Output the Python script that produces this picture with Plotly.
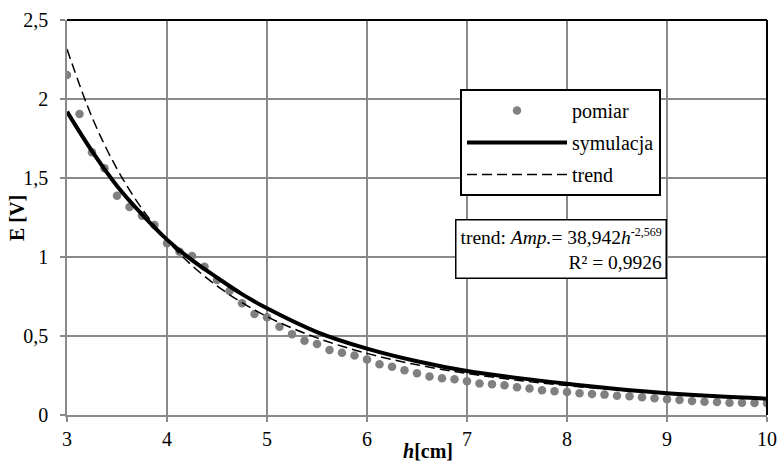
import plotly.graph_objects as go

# measured points (pomiar)
h_meas = [3.0 + 0.125 * i for i in range(57)]
e_meas = [2.152, 1.905, 1.663, 1.561, 1.388, 1.316, 1.261, 1.203,
          1.087, 1.034, 1.006, 0.939, 0.854, 0.785, 0.707, 0.639,
          0.618, 0.559, 0.511, 0.470, 0.449, 0.411, 0.394, 0.377,
          0.352, 0.321, 0.306, 0.283, 0.264, 0.243, 0.232, 0.226,
          0.213, 0.200, 0.194, 0.188, 0.175, 0.167, 0.156, 0.150,
          0.146, 0.137, 0.133, 0.129, 0.122, 0.118, 0.112, 0.106,
          0.099, 0.095, 0.089, 0.084, 0.082, 0.078, 0.078, 0.076, 0.074]

# simulation (symulacja)
h_sim = [3.0, 3.25, 3.5, 3.75, 4.0, 4.25, 4.5, 4.75, 5.0, 5.5, 6.0, 6.5,
         7.0, 7.5, 8.0, 8.5, 9.0, 9.5, 10.0]
e_sim = [1.92, 1.67, 1.45, 1.27, 1.11, 0.98, 0.87, 0.765, 0.675, 0.525,
         0.42, 0.34, 0.278, 0.235, 0.198, 0.165, 0.138, 0.118, 0.103]

# trend line (trend)
h_trend = [3.0, 3.25, 3.5, 3.75, 4.0, 4.25, 4.5, 4.75, 5.0, 5.25, 5.5, 5.75,
           6.0, 6.25, 6.5, 6.75, 7.0, 7.5, 8.0, 8.5, 9.0, 9.5, 10.0]
e_trend = [2.316, 1.885, 1.558, 1.305, 1.106, 0.946, 0.817, 0.711, 0.623,
           0.550, 0.488, 0.435, 0.390, 0.351, 0.318, 0.288, 0.263, 0.220,
           0.186, 0.159, 0.138, 0.120, 0.105]

x_ticks = [3, 4, 5, 6, 7, 8, 9, 10]
x_labels = ["3", "4", "5", "6", "7", "8", "9", "10"]
y_ticks = [0, 0.5, 1, 1.5, 2, 2.5]
y_labels = ["0", "0,5", "1", "1,5", "2", "2,5"]

FONT = "Liberation Serif"
GRID = "#8a8a8a"

fig = go.Figure()
fig.add_trace(go.Scatter(x=h_meas, y=e_meas, mode="markers", name="pomiar",
                         legendgroup="a",
                         marker=dict(color="#808080", size=8.5)))
fig.add_trace(go.Scatter(x=h_sim, y=e_sim, mode="lines", name="symulacja",
                         legendgroup="b",
                         line=dict(color="black", width=4, shape="spline")))
fig.add_trace(go.Scatter(x=h_trend, y=e_trend, mode="lines", name="trend",
                         legendgroup="c",
                         line=dict(color="black", width=1.5, dash="10px,5px",
                                   shape="spline")))

fig.update_layout(
    width=779, height=461,
    margin=dict(l=67, r=12, t=20, b=46, autoexpand=False),
    paper_bgcolor="white", plot_bgcolor="white",
    font=dict(family=FONT, size=20, color="black"),
    separators=", ",
    showlegend=True,
    legend=dict(x=(460 - 67) / 700, y=(415 - 89) / 395,
                xanchor="left", yanchor="top",
                bgcolor="white", bordercolor="black", borderwidth=2,
                font=dict(family=FONT, size=20), itemwidth=100,
                tracegroupgap=3),
    xaxis=dict(range=[3, 10], tickvals=x_ticks, ticktext=x_labels,
               showgrid=True, gridcolor=GRID, gridwidth=1.5,
               showline=True, linecolor=GRID, linewidth=1.5,
               ticks="outside", tickcolor=GRID, ticklen=5, tickwidth=1.5,
               zeroline=False, automargin=False,
               tickfont=dict(family=FONT, size=20)),
    yaxis=dict(range=[0, 2.5], tickvals=y_ticks, ticktext=y_labels,
               showgrid=True, gridcolor=GRID, gridwidth=1.5,
               showline=True, linecolor=GRID, linewidth=1.5,
               ticks="outside", tickcolor=GRID, ticklen=5, tickwidth=1.5,
               zeroline=False, automargin=False,
               tickfont=dict(family=FONT, size=20),
               ticklabelstandoff=8),
)

# top and right black frame
fig.add_shape(type="line", xref="paper", yref="paper", x0=0, x1=1, y0=1, y1=1,
              line=dict(color="black", width=2))
fig.add_shape(type="line", xref="paper", yref="paper", x0=1, x1=1, y0=0, y1=1,
              line=dict(color="black", width=2))

# axis titles
fig.add_annotation(text="<b>E [V]</b>", xref="paper", yref="paper",
                   x=(17 - 67) / 700, y=(415 - 218) / 395,
                   xanchor="center", yanchor="middle",
                   showarrow=False, textangle=-90,
                   font=dict(family=FONT, size=20))
fig.add_annotation(text="<b><i>h</i>[cm]</b>", xref="paper", yref="paper",
                   x=(428 - 67) / 700, y=(415 - 451) / 395,
                   xanchor="center", yanchor="middle",
                   showarrow=False, font=dict(family=FONT, size=20))

# trend equation box
fig.add_annotation(
    text=("trend: <i>Amp.</i>= 38,942<i>h</i>"
          "<sup><span style='font-size:12px'>-2,569</span></sup>"
          "<br>R² = 0,9926"),
    xref="paper", yref="paper", x=(667 - 67) / 700, y=(415 - 248.5) / 395,
    xanchor="right", yanchor="middle", showarrow=False,
    align="right", bgcolor="white", bordercolor="black", borderwidth=1.5,
    borderpad=4, font=dict(family=FONT, size=19.5))

fig.write_html("out.html")
